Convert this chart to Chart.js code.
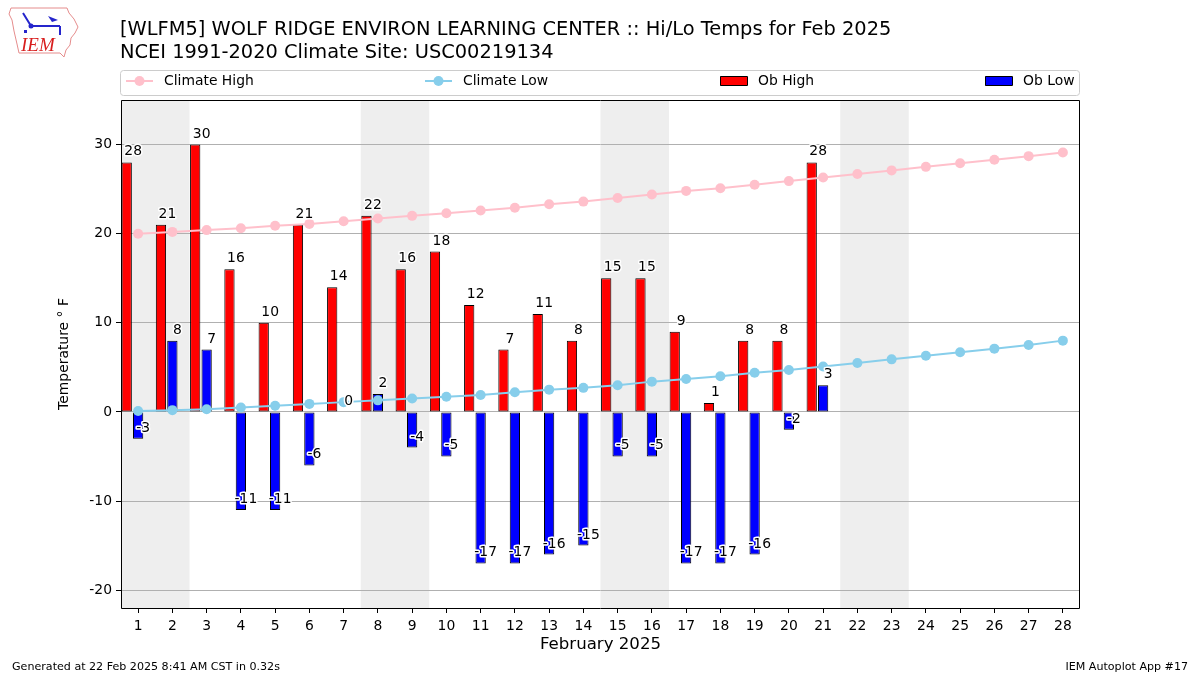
<!DOCTYPE html>
<html>
<head>
<meta charset="utf-8">
<script src="https://cdn.jsdelivr.net/npm/chart.js@4.4.1/dist/chart.umd.min.js"></script>
<style>
html, body { margin: 0; padding: 0; background: #fff; }
</style>
</head>
<body>
<canvas id="chart" width="1200" height="675"></canvas>
<script>
var days = ['1','2','3','4','5','6','7','8','9','10','11','12','13','14','15','16','17','18','19','20','21','22','23','24','25','26','27','28'];
var obHigh = [28, 21, 30, 16, 10, 21, 14, 22, 16, 18, 12, 7, 11, 8, 15, 15, 9, 1, 8, 8, 28];
var obLow = [-3, 8, 7, -11, -11, -6, 0, 2, -4, -5, -17, -17, -16, -15, -5, -5, -17, -17, -16, -2, 3];
var climateHigh = [20.0, 20.2, 20.4, 20.6, 20.9, 21.1, 21.4, 21.7, 22.0, 22.3, 22.6, 22.9, 23.3, 23.6,
                   24.0, 24.4, 24.8, 25.1, 25.5, 25.9, 26.3, 26.7, 27.1, 27.5, 27.9, 28.3, 28.7, 29.1];
var climateLow = [0.1, 0.2, 0.3, 0.5, 0.7, 0.9, 1.1, 1.3, 1.5, 1.7, 1.9, 2.2, 2.5, 2.7,
                  3.0, 3.4, 3.7, 4.0, 4.4, 4.7, 5.1, 5.5, 5.9, 6.3, 6.7, 7.1, 7.5, 8.0];
var yTicks = [-20, -10, 0, 10, 20, 30];
var weekendDays = [[1, 2], [8, 9], [15, 16], [22, 23]];
var titleLines = ['[WLFM5] WOLF RIDGE ENVIRON LEARNING CENTER :: Hi/Lo Temps for Feb 2025',
                  'NCEI 1991-2020 Climate Site: USC00219134'];
var footerLeft = 'Generated at 22 Feb 2025 8:41 AM CST in 0.32s';
var footerRight = 'IEM Autoplot App #17';

var FONT = '"DejaVu Sans", sans-serif';

function drawLogo(ctx) {
	ctx.save();
	ctx.strokeStyle = '#e58c8c';
	ctx.lineWidth = 1;
	ctx.beginPath();
	ctx.moveTo(11, 8); ctx.lineTo(67, 8); ctx.lineTo(69, 13); ctx.lineTo(74, 19);
	ctx.lineTo(78, 27); ctx.lineTo(75, 33); ctx.lineTo(71, 38); ctx.lineTo(70, 45);
	ctx.lineTo(66, 50); ctx.lineTo(64, 57); ctx.lineTo(60, 53); ctx.lineTo(19, 53);
	ctx.lineTo(17, 44); ctx.lineTo(14, 31); ctx.lineTo(12, 20); ctx.lineTo(9, 14);
	ctx.closePath();
	ctx.stroke();
	ctx.fillStyle = '#d81e1e';
	ctx.font = 'italic 19px "Liberation Serif", serif';
	ctx.fillText('IEM', 21, 51);
	ctx.strokeStyle = '#2525cc';
	ctx.fillStyle = '#2525cc';
	ctx.lineWidth = 2;
	ctx.beginPath();
	ctx.moveTo(31, 26); ctx.lineTo(60, 26);
	ctx.moveTo(23, 13); ctx.lineTo(31, 26);
	ctx.moveTo(60, 26); ctx.lineTo(60, 35);
	ctx.stroke();
	ctx.beginPath(); ctx.arc(31, 26, 2.5, 0, Math.PI * 2); ctx.fill();
	ctx.beginPath();
	ctx.moveTo(48, 16); ctx.lineTo(58, 20); ctx.lineTo(52, 22); ctx.closePath(); ctx.fill();
	ctx.fillRect(24, 30, 3, 3);
	ctx.restore();
}

var decorPlugin = {
	id: 'decor',
	beforeDraw: function(chart) {
		var ctx = chart.ctx, area = chart.chartArea, x = chart.scales.x;
		var half = (area.right - area.left) / days.length / 2;
		ctx.save();
		ctx.fillStyle = '#eeeeee';
		weekendDays.forEach(function(w) {
			var l = x.getPixelForValue(w[0] - 1) - half;
			var r = x.getPixelForValue(w[1] - 1) + half;
			ctx.fillRect(l, area.top, r - l, area.bottom - area.top);
		});
		ctx.restore();
	},
	afterDraw: function(chart) {
		var ctx = chart.ctx, area = chart.chartArea;
		var x = chart.scales.x, y = chart.scales.y;
		ctx.save();
		// value labels
		ctx.font = '13.9px ' + FONT;
		ctx.textAlign = 'center';
		ctx.textBaseline = 'alphabetic';
		ctx.lineJoin = 'round';
		function label(txt, px, py) {
			ctx.strokeStyle = '#ffffff';
			ctx.lineWidth = 3;
			ctx.strokeText(txt, px, py);
			ctx.fillStyle = '#000000';
			ctx.fillText(txt, px, py);
		}
		obHigh.forEach(function(v, i) {
			label(String(v), x.getPixelForValue(i) - 5, y.getPixelForValue(v) - 7);
		});
		obLow.forEach(function(v, i) {
			label(String(v), x.getPixelForValue(i) + 5, y.getPixelForValue(v) - 7);
		});
		// frame
		ctx.strokeStyle = '#000000';
		ctx.lineWidth = 1;
		ctx.strokeRect(Math.round(area.left) + 0.5, Math.round(area.top) + 0.5,
			Math.round(area.right - area.left) - 1, Math.round(area.bottom - area.top));
		// title
		ctx.textAlign = 'left';
		ctx.fillStyle = '#000000';
		ctx.font = '19.4px ' + FONT;
		ctx.fillText(titleLines[0], 120, 35);
		ctx.fillText(titleLines[1], 120, 58);
		// footer
		ctx.font = '11.1px ' + FONT;
		ctx.fillText(footerLeft, 12, 670);
		ctx.textAlign = 'right';
		ctx.fillText(footerRight, 1188, 670);
		// legend
		ctx.strokeStyle = '#cccccc';
		ctx.beginPath();
		ctx.roundRect(120.5, 70.5, 959, 25, 3);
		ctx.stroke();
		var ly = 81;
		var items = chart.data.datasets.filter(function(d) { return d.label; });
		var itemX = [126, 425, 720, 985];
		ctx.font = '13.9px ' + FONT;
		ctx.textAlign = 'left';
		ctx.textBaseline = 'middle';
		items.forEach(function(d, k) {
			var sx = itemX[k];
			if (d.type === 'line') {
				ctx.strokeStyle = d.borderColor;
				ctx.lineWidth = 2;
				ctx.beginPath(); ctx.moveTo(sx, ly); ctx.lineTo(sx + 27, ly); ctx.stroke();
				ctx.fillStyle = d.borderColor;
				ctx.beginPath(); ctx.arc(sx + 13.5, ly, 5, 0, Math.PI * 2); ctx.fill();
			} else {
				ctx.fillStyle = d.backgroundColor;
				ctx.fillRect(sx, ly - 4.5, 27, 9);
				ctx.strokeStyle = '#000000';
				ctx.lineWidth = 1;
				ctx.strokeRect(sx + 0.5, ly - 4.5, 27, 9);
			}
			ctx.fillStyle = '#000000';
			ctx.fillText(d.label, sx + 38, ly);
		});
		ctx.restore();
		drawLogo(ctx);
	}
};

var ctx = document.getElementById('chart');
var myChart = new Chart(ctx, {
	data: {
		labels: days,
		datasets: [
			{ type: 'line', label: 'Climate High', data: climateHigh, borderColor: '#ffc0cb', backgroundColor: '#ffc0cb',
			  borderWidth: 2, pointRadius: 5, pointBorderWidth: 0, pointHoverRadius: 5, tension: 0, order: 0 },
			{ type: 'line', label: 'Climate Low', data: climateLow, borderColor: '#87ceeb', backgroundColor: '#87ceeb',
			  borderWidth: 2, pointRadius: 5, pointBorderWidth: 0, pointHoverRadius: 5, tension: 0, order: 0 },
			{ type: 'bar', label: 'Ob High', data: obHigh, backgroundColor: '#ff0000', borderColor: '#000000',
			  borderWidth: 1, borderSkipped: false, order: 1 },
			{ type: 'bar', label: 'Ob Low', data: obLow, backgroundColor: '#0000ff', borderColor: '#000000',
			  borderWidth: 1, borderSkipped: false, order: 1 },
			// empty slot so the low bar sits on the tick and the high bar to its left
			{ type: 'bar', label: '', data: days.map(function() { return null; }), backgroundColor: 'rgba(0,0,0,0)', order: 1 }
		]
	},
	options: {
		responsive: false,
		animation: false,
		devicePixelRatio: 1,
		layout: { padding: { top: 100, right: 120, bottom: 20, left: 0 } },
		datasets: { bar: { categoryPercentage: 1.0, barPercentage: 0.9 } },
		plugins: {
			legend: { display: false },
			title: { display: false },
			tooltip: { enabled: false }
		},
		scales: {
			x: {
				type: 'category',
				offset: true,
				grid: { display: true, drawOnChartArea: false, offset: false, drawTicks: true, tickLength: 5, color: '#000000' },
				border: { display: false },
				ticks: { autoSkip: false, maxRotation: 0, color: '#000000', padding: 5, font: { family: FONT, size: 13.9 } },
				title: { display: true, text: 'February 2025', color: '#000000', padding: { top: 0, bottom: 0 }, font: { family: FONT, size: 16.6 } },
				afterFit: function(scale) { scale.height = 47; }
			},
			y: {
				min: -22,
				max: 35,
				afterBuildTicks: function(scale) {
					scale.ticks = yTicks.map(function(v) { return { value: v }; });
				},
				grid: { color: '#b0b0b0', tickColor: '#000000', tickLength: 5, drawTicks: true },
				border: { display: false },
				ticks: { color: '#000000', padding: 4, font: { family: FONT, size: 13.9 } },
				title: { display: true, text: 'Temperature ° F', color: '#000000', padding: { top: 56, bottom: 0 }, font: { family: FONT, size: 13.9 } },
				afterFit: function(scale) { scale.width = 121; }
			}
		}
	},
	plugins: [decorPlugin]
});
</script>
</body>
</html>
